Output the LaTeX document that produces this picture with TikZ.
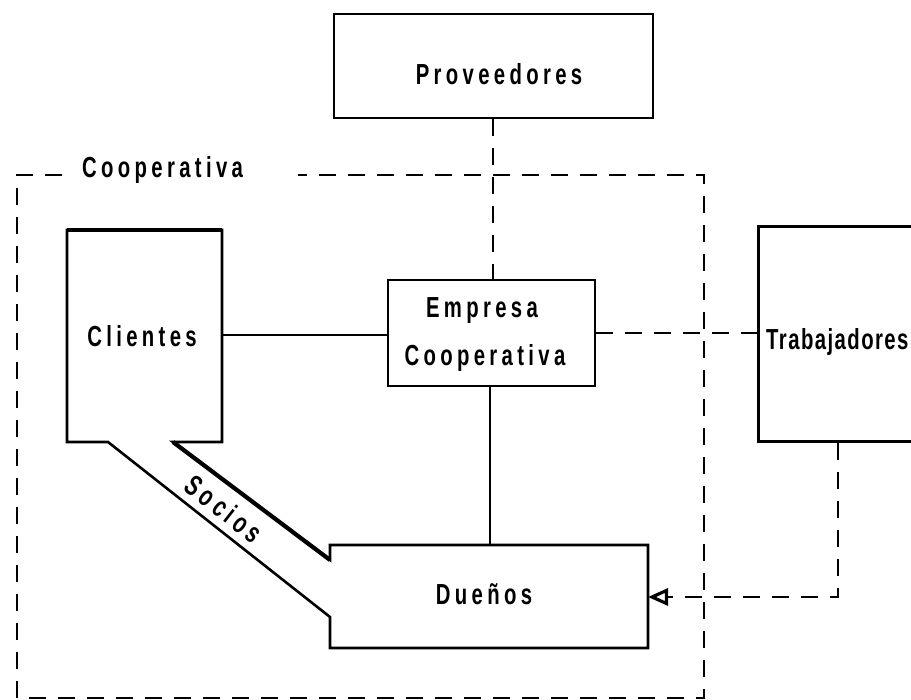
\documentclass[tikz,border=0pt]{standalone}
\usepackage{fontspec}
\setmainfont{Liberation Sans}[FakeStretch=0.7]
\newfontfamily\widefont{Liberation Sans Bold}[FakeStretch=0.7,LetterSpace=15]
\newfontfamily\tightfont{Liberation Sans Bold}[FakeStretch=0.7,LetterSpace=5]
\usetikzlibrary{arrows.meta}
\begin{document}
\begin{tikzpicture}[x=1pt,y=-1pt,
  solidbox/.style={draw,line width=2.8pt},
  lbl/.style={font=\fontsize{29}{30}\selectfont\widefont,inner sep=0pt},
  lblt/.style={font=\fontsize{29}{30}\selectfont\tightfont,inner sep=0pt},
  dsh/.style={line width=2.4pt,dash pattern=on 17pt off 12pt},
  link/.style={line width=2.2pt}]
\useasboundingbox (0,0) rectangle (911,700);
\clip (0,0) rectangle (911,700);
% Cooperativa frame
\draw[dsh] (62,175) -- (17,175) -- (17,698) -- (704,698) -- (704,175) -- (298,175);
\node[lbl,anchor=base west] (coop) at (82,178) {Cooperativa};
% boxes
\node[solidbox,minimum width=319pt,minimum height=104pt] (prov) at (493.5,66) {};
\node[lbl,anchor=base] (provt) at (499,85) {Proveedores};
\node[solidbox,minimum width=207pt,minimum height=106pt] (emp) at (491.5,333) {};
\node[lbl,anchor=base] (empt1) at (482,318) {Empresa};
\node[lbl,anchor=base] (empt2) at (485,366) {Cooperativa};
\node[solidbox,minimum width=180pt,minimum height=215pt,anchor=north west] (trab) at (757,225) {};
\node[lblt,anchor=base west] (trabt) at (766,350) {Trabajadores};
% Clientes - Socios - Duenos outline
\draw[line width=2.6pt,line join=miter]
  (67,230) -- (222,230) -- (222,442) -- (173,442) -- (330,560) -- (330,545)
  -- (648,545) -- (648,648) -- (330,648) -- (330,617) -- (108,442) -- (67,442) -- cycle;
\draw[line width=4.2pt] (67,230) -- (222,230);
\draw[line width=4.2pt] (173,442) -- (330,560);
\node[lbl,anchor=base] (cli) at (142,347) {Clientes};
\node[lbl,anchor=base] (due) at (484,605) {Dueños};
\node[lbl,rotate=-38] (soc) at (224,509) {Socios};
\coordinate (ducorner) at (648,597);
\coordinate (tcorner) at (838,597);
% connectors
\draw[link] (222,335) -- (emp.west |- 0,335);
\draw[link] (emp.south -| 490,0) -- (490,545);
\draw[dsh] (prov.south -| 493,0) -- (493,280);
\draw[dsh] (emp.east |- 0,333) -- (trab.west |- 0,333);
\draw[dsh,-{Triangle[open,length=20pt,width=17pt,line width=3.2pt,sep=0pt]}]
  (trab.south -| 838,0) -- (tcorner) -- (ducorner);
\end{tikzpicture}
\end{document}
